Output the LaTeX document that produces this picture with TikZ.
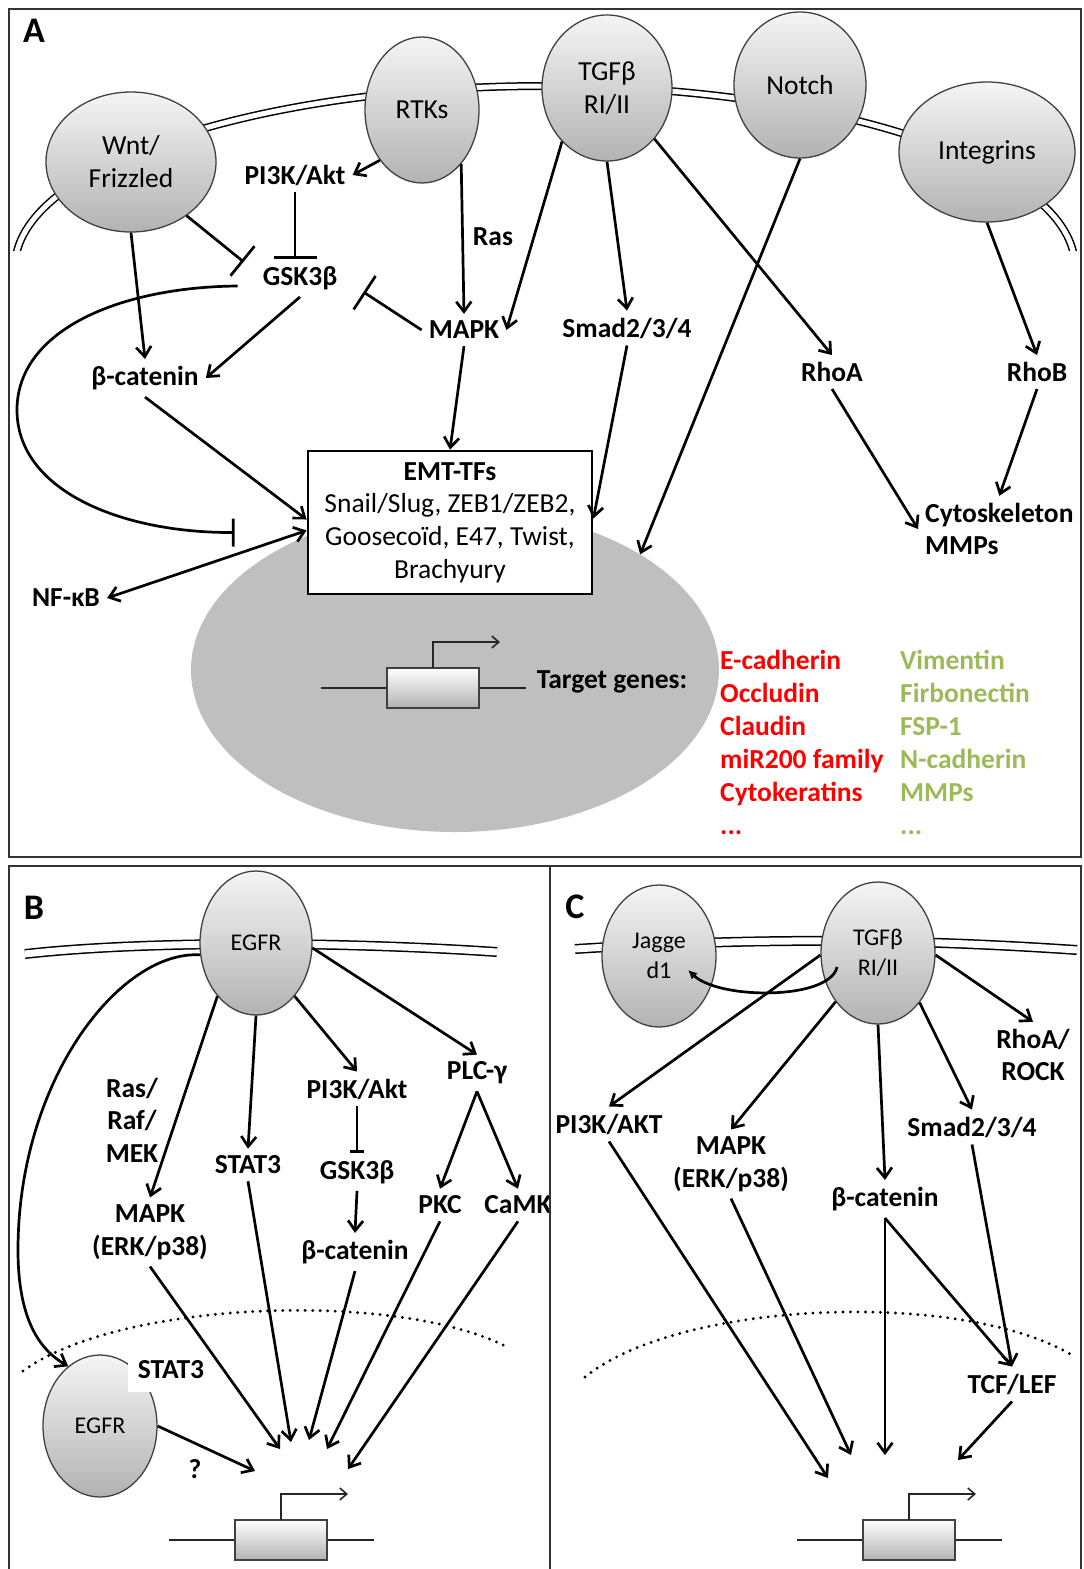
\documentclass[tikz,border=0pt]{standalone}
\usepackage{fontspec}
\setmainfont{Carlito}
\usetikzlibrary{
  shapes,       % Shape "ellipse"
  arrows.meta,  % Tips "Straight Barb", "Bar", "Latex"
  calc,         % Calculations $...$
}
\definecolor{myred}{RGB}{255,0,0}
\definecolor{mygreen}{RGB}{155,187,89}
% gene with promoter arrow, box centred at (#1,#2)
\newcommand{\mygene}[2]{%
  \draw[my gene line] (#1-112,#2) -- (#1+93,#2);
  \draw[my gene box] (#1-46,#2-20) rectangle (#1+46,#2+20);
  \draw[my gene line,-{Straight Barb[length=7pt,width=12pt]}] (#1,#2-20) |- (#1+67,#2-46);
}
\tikzset{
  font=\fontsize{27.5}{33}\selectfont,
  >={Straight Barb[length=10pt,width=15pt]},
  my panel/.style={
    draw=black!80,
    line width=2.5pt
  },
  my letter/.style={
    font=\fontsize{36}{40}\selectfont\bfseries,
    inner sep=0pt
  },
  my membrane/.style={
    draw=black,
    double=white,
    double distance=5pt,
    line width=1.5pt
  },
  my envelope/.style={
    line width=3.2pt,
    line cap=round,
    dash pattern=on 0pt off 7.5pt
  },
  my receptor/.style={
    ellipse,
    draw=black!75,
    line width=1.3pt,
    top color=black!4,
    bottom color=black!30,
    inner sep=0pt,
    align=center
  },
  my small receptor/.style={
    my receptor,
    font=\fontsize{24}{30}\selectfont
  },
  my nucleus/.style={
    ellipse,
    fill=black!25,
    inner sep=0pt
  },
  my label/.style={
    font=\fontsize{27.5}{32.5}\selectfont\bfseries,
    inner sep=7pt,
    align=center
  },
  my list/.style={
    font=\fontsize{27.5}{33}\selectfont\bfseries,
    anchor=base west,
    inner sep=0pt
  },
  my box/.style={
    draw,
    fill=white,
    line width=2.8pt,
    minimum width=284pt,
    minimum height=143pt,
    inner sep=0pt,
    align=center,
    font=\fontsize{27.5}{32.7}\selectfont
  },
  my gene line/.style={
    draw=black!85,
    line width=1.6pt
  },
  my gene box/.style={
    draw=black!75,
    line width=1.6pt,
    top color=white,
    bottom color=black!30
  },
  my arrow/.style={
    ->,
    line width=2.7pt
  },
  my bar/.style={
    line width=2.7pt,
    -{Bar[width=#1]}
  },
  my bar/.default=40pt
}

\begin{document}
\begin{tikzpicture}[x=1pt,y=-1pt]
\useasboundingbox (0,0) rectangle (1084,1569);

% ---------- A ----------
\begin{scope}
  \clip (0,0) rectangle (1084,250);
  \draw[my membrane] (545,267) ellipse [x radius=530, y radius=181];
\end{scope}
\node[my receptor,minimum width=170pt,minimum height=140pt] (wnt)   at (131,162) {Wnt/\\Frizzled};
\node[my receptor,minimum width=114pt,minimum height=146pt] (rtk)   at (422,110) {RTKs};
\node[my receptor,minimum width=130pt,minimum height=146pt] (tgf)   at (607,88)  {TGFβ\\RI/II};
\node[my receptor,minimum width=132pt,minimum height=146pt] (notch) at (800,85)  {Notch};
\node[my receptor,minimum width=176pt,minimum height=140pt] (itg)   at (987,152) {Integrins};

\node[my nucleus,minimum width=528pt,minimum height=324pt] (nuc) at (455,670) {};
\mygene{433}{688}
\node[my label] (target) at (612,682) {Target genes:};
\node[my box] (emt) at (450,522.5)
  {\textbf{EMT-TFs}\\Snail/Slug, ZEB1/ZEB2,\\Goosecoïd, E47, Twist,\\Brachyury};

\node[my label] (pi3k) at (295,175) {PI3K/Akt};
\node[my label] (gsk)  at (300,278) {GSK3β};
\node[my label] (ras)  at (493,237) {Ras};
\node[my label] (mapk) at (464,330) {MAPK};
\node[my label] (smad) at (627,328) {Smad2/3/4};
\node[my label] (rhoa) at (832,372) {RhoA};
\node[my label] (rhob) at (1037,372) {RhoB};
\node[my label] (bcat) at (145,378) {β-catenin};
\node[my label] (nfkb) at (66,598)  {NF-κB};
\node[my label,align=left,anchor=west] (cyto) at (918,529) {Cytoskeleton\\MMPs};

\foreach \g [count=\i from 0] in {E-cadherin, Occludin, Claudin, miR200 family, Cytokeratins}
  \node[my list,text=myred] (epi\i) at (720,669+33*\i) {\g};
\node[my list,text=myred] (epi5) at (720,834) {...};
\foreach \g [count=\i from 0] in {Vimentin, Firbonectin, FSP-1, N-cadherin, MMPs}
  \node[my list,text=mygreen] (mes\i) at (900,669+33*\i) {\g};
\node[my list,text=mygreen] (mes5) at (900,834) {...};

\draw[my arrow] (rtk.-130) -- (pi3k.east);
\draw[my arrow] (rtk.-54)  -- (mapk.north);
\draw[my bar=43pt] (pi3k.south) -- (pi3k.south |- gsk.north);
\draw[my bar=38pt] (wnt.-44) -- ($(gsk.160)+(-12,0)$);
\draw[my bar=40pt] (mapk.west) -- ($(gsk.east)+(19,14)$);
\draw[my arrow] (wnt.south) -- (bcat.north);
\draw[my arrow] (gsk.south) -- (bcat.east);
\draw[my arrow] (bcat.south) -- ($(emt.west)+(0,-3)$);
\draw[my arrow] (mapk.south) -- (emt.north);
\draw[my arrow] (tgf.-130) -- (mapk.east);
\draw[my arrow] (tgf.south) -- (smad.north);
\draw[my arrow] (tgf.-47)  -- (rhoa.north);
\draw[my arrow] (notch.south) -- (nuc.32);
\draw[my arrow] (itg.south) -- (rhob.north);
\draw[my arrow] (smad.south) -- ($(emt.east)+(0,-4)$);
\draw[my arrow] (rhoa.south) -- (cyto.west);
\draw[my arrow] (rhob.south) -- (cyto.north);
\draw[my bar=28pt] ($(gsk.west)+(-18,8)$) .. controls (120,287) and (17,330) .. (17,410)
                    .. controls (17,490) and (120,533) .. ($(emt.west)+(-72,10)$);
\draw[my arrow,<->] ($(emt.west)+(0,8)$) -- (nfkb.east);

% ---------- B ----------
\draw[my membrane,double distance=7pt] (25,954) .. controls (150,940) and (350,942) .. (497,952);
\node[my small receptor,minimum width=112pt,minimum height=144pt] (egfr) at (256,943) {EGFR};
\node[my label] (rasb)   at (132,1120) {Ras/\\Raf/\\MEK};
\node[my label] (mapkb)  at (150,1232) {MAPK\\(ERK/p38)};
\node[my label] (stat3b) at (248,1165) {STAT3};
\node[my label] (pi3kb)  at (357,1089) {PI3K/Akt};
\node[my label] (gskb)   at (357,1172) {GSK3β};
\node[my label] (bcatb)  at (355,1252) {β-catenin};
\node[my label] (plc)    at (477,1073) {PLC-γ};
\node[my label] (pkc)    at (440,1205) {PKC};
\node[my label] (camk)   at (518,1205) {CaMK};

\draw[my envelope] (23,1371) .. controls (120,1300) and (400,1290) .. (509,1348);
\node[my small receptor,minimum width=114pt,minimum height=142pt] (egfrn) at (100,1426) {EGFR};
\node[my label,fill=white,inner xsep=10pt,inner ysep=13pt] (stat3n) at (171,1370) {STAT3};
\node[my label] (qm) at (195,1469) {?};
\mygene{281}{1540}
\coordinate (b1) at (255,1471);
\coordinate (b2) at (280,1449);
\coordinate (b3) at (291,1442);
\coordinate (b4) at (309,1440);
\coordinate (b5) at (327,1449);
\coordinate (b6) at (348,1469);

\draw[my arrow] (egfr.-126) -- (mapkb.north);
\draw[my arrow] (egfr.south) -- (stat3b.north);
\draw[my arrow] (egfr.-54)  -- (pi3kb.north);
\draw[my arrow] (egfr.-5)   -- (plc.north);
\draw[my bar=14pt] (pi3kb.south) -- (gskb.north);
\draw[my arrow] (gskb.south) -- (bcatb.north);
\draw[my arrow] (plc.south) -- (pkc.north);
\draw[my arrow] (plc.south) -- (camk.north);
\draw[my arrow] (egfr.-168) .. controls (120,950) and (18,1080) .. (18,1250)
                .. controls (18,1320) and (40,1350) .. (egfrn.118);
\draw[my arrow] (egfrn.east)   -- (b1);
\draw[my arrow] (mapkb.south)  -- (b2);
\draw[my arrow] (stat3b.south) -- (b3);
\draw[my arrow] (bcatb.south)  -- (b4);
\draw[my arrow] (pkc.south)    -- (b5);
\draw[my arrow] (camk.south)   -- (b6);

% ---------- C ----------
\draw[my membrane,double distance=7pt] (575,949) .. controls (750,938) and (900,938) .. (1077,950);
\node[my small receptor,minimum width=114pt,minimum height=142pt] (jag)  at (659,956) {Jagge\\d1};
\node[my small receptor,minimum width=114pt,minimum height=142pt] (tgfc) at (878,953) {TGFβ\\RI/II};
\node[my label] (pi3kc) at (609,1124)  {PI3K/AKT};
\node[my label] (mapkc) at (731,1164)  {MAPK\\(ERK/p38)};
\node[my label] (bcatc) at (885,1199)  {β-catenin};
\node[my label] (smadc) at (972,1127)  {Smad2/3/4};
\node[my label] (rhoac) at (1033,1055) {RhoA/\\ROCK};
\node[my label] (tcf)   at (1012,1384) {TCF/LEF};

\draw[my envelope] (585,1377) .. controls (680,1300) and (960,1290) .. (1070,1354);
\mygene{909}{1540}
\coordinate (c1) at (828,1478);
\coordinate (c2) at (851,1455);
\coordinate (c3) at (885,1455);
\coordinate (c4) at (958,1460);

\draw[line width=2.7pt,-{Latex[length=9pt,width=9pt]}] ($(tgfc.center)+(-41,14)$)
  .. controls (830,1000) and (720,1000) .. ($(jag.center)+(29,14)$);
\draw[my arrow] (tgfc.-178) -- (pi3kc.north);
\draw[my arrow] (tgfc.-131) -- (mapkc.north);
\draw[my arrow] (tgfc.south) -- (bcatc.north);
\draw[my arrow] (tgfc.-50)  -- (smadc.north);
\draw[my arrow] (tgfc.-2)   -- (rhoac.north);
\draw[my arrow] (bcatc.south) -- (c3);
\draw[my arrow] (bcatc.south) -- (tcf.north);
\draw[my arrow] (smadc.south) -- (tcf.north);
\draw[my arrow] (tcf.south)   -- (c4);
\draw[my arrow] (pi3kc.south) -- (c1);
\draw[my arrow] (mapkc.south) -- (c2);

% ---------- panels ----------
\draw[my panel] (9,9) rectangle (1081,857);
\draw[my panel] (9,1569) |- (1081,866) -- (1081,1569);
\draw[my panel] (550,866) -- (550,1569);
\node[my letter] (la) at (34,31)  {A};
\node[my letter] (lb) at (34,908) {B};
\node[my letter] (lc) at (575,907) {C};
\end{tikzpicture}
\end{document}
